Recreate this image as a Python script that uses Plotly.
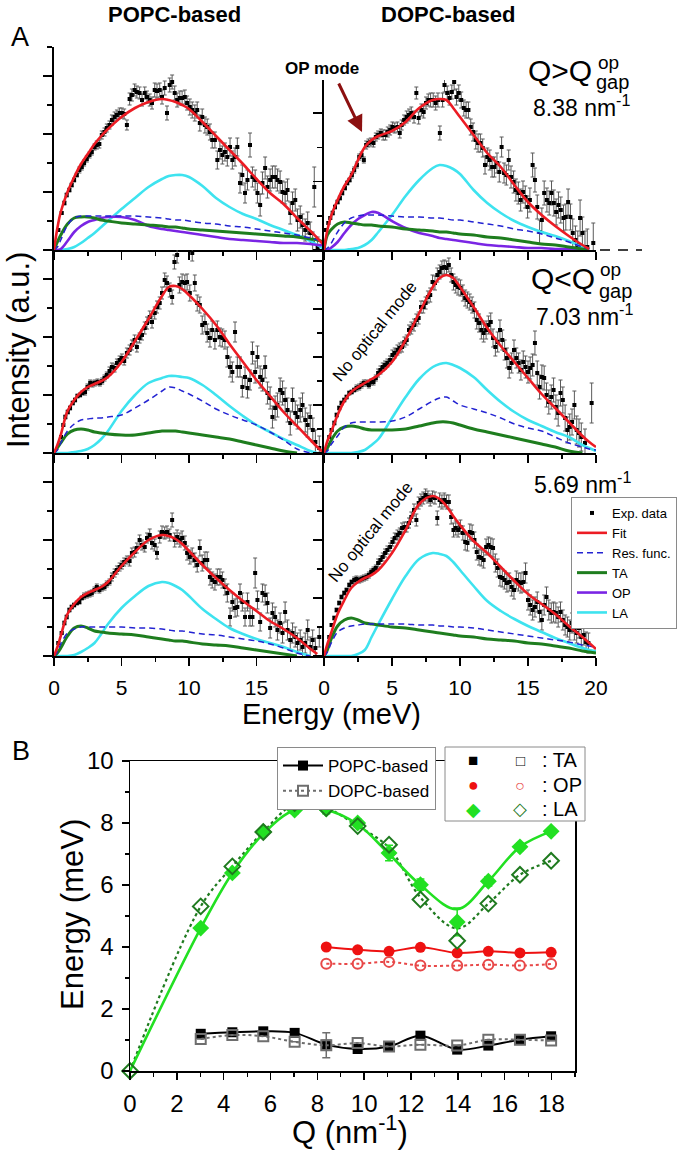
import plotly.graph_objects as go

W, H = 678, 1153
FONT = "Liberation Sans, Arial, Helvetica, sans-serif"

# ---------------- Panel A : experimental spectra (intensity in a.u.) ----------------
E_TL = [0.32,0.57,0.77,0.94,1.14,1.31,1.49,1.69,1.88,2.06, 2.23,2.43,2.63,2.80,3.00,3.17,3.36,3.54,3.74,3.91,
        4.11,4.29,4.49,4.66,4.86,5.03,5.20,5.40,5.60,5.77, 5.97,6.14,6.34,6.52,6.72,6.89,7.09,7.26,7.46,7.63,
        7.83,8.00,8.20,8.37,8.57,8.75,8.94,9.12,9.32,9.49, 9.69,9.86,10.06,10.24,10.43,10.61,10.80,10.98,11.18,11.35,
        11.55,11.72,11.92,12.10,12.29,12.47,12.66,12.84,13.04,13.21, 13.41,13.58,13.78,13.95,14.15,14.33,14.52,14.70,14.90,15.07,
        15.27,15.44,15.64,15.81,16.01,16.18,16.38,16.55,16.75,16.93, 17.12,17.30,17.50,17.67,17.87,18.04,18.24,18.41,18.61,18.79,
        18.98,19.16,19.28,19.53]
I_TL = [20,37,47,55,60,65,70,75,80,83, 87,91,95,98,103,105,106,115,118,122,
        125,130,133,135,137,137,136,125,151,155, 160,158,157,150,157,153,150,147,160,159,
        160,153,162,137,165,168,157,150,152,152, 153,147,143,140,137,140,127,133,125,123,
        118,110,110,90,100,95,98,93,103,90, 93,103,67,75,57,70,105,73,70,57,
        45,67,82,63,70,73,73,70,68,58, 57,60,37,47,50,30,33,25,20,27,
        17,7,63,3]
ERR_TL = [1,1,2,2,2,2,2,2,3,3, 3,3,3,3,3,4,4,4,4,4, 4,5,5,5,5,5,5,5,6,6, 6,6,6,6,6,6,6,6,7,7,
          7,7,7,7,7,7,7,7,7,7, 7,7,8,8,8,8,8,8,8,8, 8,8,8,9,9,9,9,9,9,9, 9,9,10,10,10,10,12,10,10,10,
          11,11,11,11,11,11,11,11,11,11, 11,11,11,11,11,11,11,11,11,11, 11,11,20,10]

E_TR = [0.15,0.32,0.46,0.64,0.81,1.00,1.17,1.34,1.54,1.71, 1.88,2.05,2.22,2.42,2.59,2.76,2.93,3.10,3.27,3.44,
        3.64,3.81,3.98,4.18,4.35,4.52,4.69,4.86,5.03,5.20, 5.40,5.57,5.71,5.89,6.08,6.25,6.42,6.62,6.79,6.96,
        7.16,7.33,7.50,7.67,7.84,8.03,8.21,8.38,8.52,8.72, 8.86,9.06,9.23,9.40,9.57,9.74,9.91,10.09,10.28,10.45,
        10.62,10.79,10.96,11.16,11.33,11.50,11.67,11.84,12.01,12.19, 12.36,12.53,12.72,12.89,13.06,13.24,13.41,13.58,13.75,13.94,
        14.11,14.29,14.46,14.63,14.80,14.97,15.14,15.34,15.51,15.68, 15.85,16.02,16.19,16.39,16.56,16.73,16.90,17.07,17.24,17.41,
        17.61,17.78,17.95,18.12,18.29,18.49,18.66,18.83,19.00,19.19, 19.36,19.80]
I_TR = [20,27,32,37,43,48,52,57,62,67, 70,75,80,85,93,95,90,105,107,108,
        107,113,115,117,115,115,118,120,123,122, 123,117,125,130,133,135,137,133,157,132,
        140,138,147,150,150,150,147,150,117,150, 165,157,152,158,168,153,157,150,142,140,
        140,123,118,110,107,107,102,85,93,90, 83,83,87,78,103,77,75,90,73,68,
        60,57,50,58,53,43,50,85,70,43, 18,30,57,50,47,57,47,38,45,40,
        32,33,48,33,17,10,5,32,17,3, 3,7]
ERR_TR = [1,1,1,2,2,2,2,2,2,2, 2,3,3,3,3,3,3,4,4,4, 4,4,4,4,5,5,5,5,5,5, 5,5,5,5,6,6,6,6,6,6,
          6,6,6,6,7,7,7,7,7,7, 7,7,7,7,8,8,8,8,8,8, 8,8,9,9,9,9,9,9,9,10, 10,10,10,10,10,10,10,10,11,11,
          11,11,11,11,11,11,12,12,12,12, 12,12,12,12,12,12,13,13,13,13, 13,13,13,13,14,14,14,18,16,16,
          18,20]

E_ML = [0.52,0.69,0.84,1.02,1.19,1.39,1.56,1.74,1.93,2.10, 2.30,2.48,2.68,2.85,3.02,3.22,3.40,3.57,3.74,3.91,
        4.11,4.29,4.49,4.66,4.86,5.03,5.20,5.40,5.60,5.77, 5.97,6.14,6.34,6.52,6.72,6.89,7.09,7.26,7.46,7.63,
        7.83,8.00,8.20,8.37,8.57,8.75,8.92,9.12,9.29,9.49, 9.69,9.86,10.06,10.24,10.43,10.61,10.80,10.98,11.18,11.35,
        11.55,11.72,11.92,12.10,12.29,12.47,12.66,12.84,13.04,13.21, 13.41,13.58,13.78,13.95,14.15,14.33,14.52,14.70,14.90,15.07,
        15.27,15.44,15.64,15.81,16.01,16.18,16.38,16.55,16.75,16.93, 17.12,17.30,17.50,17.67,17.87,18.04,18.24,18.41,18.61,18.79,
        18.98,19.17,19.36,19.65]
I_ML = [16,28,36,41,45,50,53,57,58,60, 61,66,70,69,70,71,70,72,75,78,
        82,86,85,90,93,95,92,100,103,108, 113,106,115,118,125,130,136,131,140,146,
        150,160,173,170,163,156,191,198,168,171, 170,171,160,200,170,150,148,128,130,120,
        115,123,113,123,116,115,113,96,86,81, 121,86,86,66,76,65,73,100,81,96,
        76,73,86,60,55,36,45,48,63,60, 53,43,30,53,40,36,43,48,33,28,
        36,23,11,5]
ERR_ML = [1,1,2,2,2,2,2,2,2,2, 3,3,3,3,3,3,3,3,3,3, 4,4,4,4,4,4,4,5,5,5, 5,5,5,5,6,6,6,6,6,6,
          6,6,7,7,7,7,7,8,8,8, 8,8,8,8,8,8,8,9,9,9, 9,9,9,9,9,9,9,10,10,10, 10,10,10,10,10,10,10,11,11,11,
          11,11,11,11,11,11,12,12,12,12, 12,12,12,12,12,12,12,12,12,12, 12,12,12,12]

E_MR = [0.39,0.56,0.76,0.93,1.12,1.29,1.49,1.66,1.86,2.03, 2.22,2.39,2.59,2.76,2.93,3.12,3.30,3.47,3.64,3.81,
        3.98,4.15,4.32,4.49,4.66,4.86,5.03,5.20,5.40,5.57, 5.74,5.91,6.08,6.25,6.42,6.62,6.79,6.96,7.13,7.30,
        7.47,7.64,7.81,7.98,8.16,8.33,8.50,8.67,8.84,9.01, 9.18,9.35,9.52,9.69,9.86,10.03,10.21,10.38,10.55,10.72,
        10.89,11.06,11.23,11.40,11.57,11.74,11.92,12.09,12.26,12.43, 12.60,12.77,12.94,13.11,13.28,13.45,13.62,13.80,13.97,14.14,
        14.31,14.48,14.65,14.82,15.00,15.16,15.34,15.51,15.68,15.85, 16.02,16.19,16.36,16.53,16.71,16.88,17.05,17.22,17.39,17.56,
        17.73,17.90,18.07,18.24,18.41,18.58,18.75,18.92,19.19,19.68]
I_MR = [16,23,30,38,45,50,53,56,60,61, 63,65,66,68,70,70,68,71,71,75,
        80,83,86,88,90,93,98,100,103,105, 106,111,113,123,125,128,133,135,146,146,
        150,156,158,171,170,178,181,185,186,185, 188,178,171,168,166,165,160,155,153,151,
        148,143,133,130,123,120,123,128,131,115, 106,111,123,113,103,95,85,90,103,95,
        90,83,91,86,81,85,88,110,80,66, 76,75,58,51,56,63,46,40,60,53,
        35,23,26,31,48,23,20,16,10,50]
ERR_MR = [1,1,2,2,2,2,2,2,2,2, 2,3,3,3,3,3,3,3,3,3, 4,4,4,4,4,4,5,5,5,5, 5,5,5,5,6,6,6,6,6,6,
          6,6,7,7,7,7,7,7,7,7, 7,7,8,8,8,8,8,8,8,8, 8,8,9,9,9,9,9,9,9,9, 9,10,10,10,10,10,10,10,10,10,
          10,10,11,11,11,11,11,12,12,12, 12,12,12,12,12,12,12,13,13,13, 13,13,13,13,14,14,14,14,14,20]

E_BL = [0.32,0.57,0.77,0.94,1.14,1.31,1.49,1.69,1.88,2.06, 2.23,2.43,2.63,2.80,3.00,3.17,3.36,3.54,3.74,3.91,
        4.11,4.29,4.49,4.66,4.86,5.03,5.20,5.40,5.60,5.77, 5.97,6.14,6.34,6.52,6.72,6.89,7.09,7.26,7.46,7.63,
        7.83,8.00,8.20,8.37,8.57,8.75,8.94,9.12,9.32,9.49, 9.69,9.86,10.06,10.24,10.43,10.61,10.80,10.98,11.18,11.35,
        11.55,11.72,11.92,12.10,12.29,12.47,12.66,12.84,13.04,13.21, 13.41,13.58,13.78,13.95,14.15,14.33,14.52,14.70,14.90,15.07,
        15.27,15.44,15.64,15.81,16.01,16.18,16.38,16.55,16.75,16.93, 17.12,17.30,17.50,17.67,17.87,18.04,18.24,18.41,18.61,18.79,
        18.98,19.16,19.36,19.65]
I_BL = [13,23,33,39,46,49,51,53,54,58, 60,61,62,63,66,69,66,68,69,72,
        74,79,83,86,89,91,94,96,95,103, 104,108,116,111,109,118,121,113,111,103,
        119,124,123,124,121,136,116,119,116,118, 113,103,99,101,96,91,108,93,96,96,
        79,76,74,79,79,76,69,63,39,54, 48,49,63,54,39,54,39,39,83,56,
        34,63,61,53,28,43,39,26,33,23, 44,26,16,23,19,13,16,9,13,26,
        9,16,8,19]
ERR_BL = [1,1,2,2,2,2,2,2,2,2, 3,3,3,3,3,3,3,3,3,3, 3,4,4,4,4,4,4,4,5,5, 5,5,5,5,5,5,6,6,6,6,
          6,6,6,6,6,7,7,7,7,7, 7,7,7,7,7,7,8,8,8,8, 8,8,8,8,8,8,8,9,9,9, 9,9,9,9,9,9,9,9,15,9,
          9,9,10,10,10,10,10,10,10,10, 10,10,10,10,10,10,10,10,10,10, 10,10,10,10]

E_BR = [0.39,0.56,0.76,0.93,1.12,1.29,1.49,1.66,1.86,2.03, 2.22,2.39,2.59,2.76,2.93,3.12,3.30,3.47,3.64,3.81,
        3.98,4.15,4.32,4.49,4.66,4.86,5.03,5.20,5.40,5.57, 5.74,5.91,6.08,6.25,6.42,6.62,6.79,6.96,7.13,7.30,
        7.47,7.64,7.81,7.98,8.16,8.33,8.50,8.67,8.84,9.01, 9.18,9.35,9.52,9.69,9.86,10.03,10.21,10.38,10.55,10.72,
        10.89,11.06,11.23,11.40,11.57,11.74,11.92,12.09,12.26,12.43, 12.60,12.77,12.94,13.11,13.28,13.45,13.62,13.80,13.97,14.14,
        14.31,14.48,14.65,14.82,15.00,15.16,15.34,15.51,15.68,15.85, 16.02,16.19,16.36,16.53,16.71,16.88,17.05,17.22,17.39,17.56,
        17.73,17.90,18.07,18.24,18.41,18.58,18.75,18.92,19.10,19.27, 19.44]
I_BR = [19,31,38,46,53,59,63,66,71,74, 76,77,76,77,78,79,81,84,86,88,
        93,96,99,103,106,109,114,118,121,123, 128,129,129,133,139,146,136,153,156,158,
        161,159,156,159,158,138,156,154,156,154, 154,139,126,128,126,129,123,114,113,124,
        123,116,104,99,98,96,109,111,109,108, 93,88,79,78,76,73,74,69,66,76,
        74,73,74,83,56,51,46,49,54,44, 36,51,59,46,43,44,43,39,44,36,
        31,29,26,33,26,23,28,19,21,14, 13]
ERR_BR = [1,1,2,2,2,2,2,2,2,2, 3,3,3,3,3,3,3,3,3,3, 4,4,4,4,4,4,4,5,5,5, 5,5,5,5,5,6,6,6,6,6,
          6,6,6,6,6,7,7,7,7,7, 7,7,7,7,7,7,7,8,8,8, 8,8,8,8,8,8,8,8,9,9, 9,9,9,9,9,9,9,9,9,9,
          9,10,10,10,10,10,10,10,10,10, 10,10,10,10,10,10,10,10,10,10, 10,10,10,10,10,10,10,10,10,10, 10]

# ---------------- Panel A : fitted components, read on a common energy grid ----------------
CURVE_E = [0, 0.25, 0.5, 1, 1.5, 2, 2.5, 3, 3.5, 4, 5, 6, 7, 8, 8.5, 9, 9.5, 10, 11, 12, 13, 14, 15, 16, 17, 18, 19, 19.5, 20]

FIT_TL = [0,22,38,58,73,86,96,106,114,121,133,142,148,151,150,148,145,141,128,114,100,86,71,57,46,32,19,12,5]
RES_TL = [0,3,10,25,32,34,34,34,34,34,34,34,33,32,31,30,30,29,27,26,24,23,21,19,17,15,12,10,8]
TA_TL  = [0,8,15,26,32,33,33,32,30,29,27,26,25,24,23,23,22,21,20,19,18,17,16,15,14,13,11,10,8]
OP_TL  = [0,0,1,9,18,24,28,30,32,33,33,30,24,21,20,19,18,17,15,13,11,10,9,8,7,7,6,5,5]
LA_TL  = [0,0,0,1,3,7,12,17,23,29,41,52,63,71,74,75,75,73,64,52,43,36,31,25,20,15,9,5,1]

FIT_TR = [0,20,33,50,64,75,90,103,110,114,119,128,142,150,151,150,142,133,115,97,83,65,48,35,24,14,5,1,None]
RES_TR = [0,2,6,18,27,32,34,35,35,35,34,33,33,32,32,31,30,30,28,26,24,21,19,16,12,8,3,1,None]
TA_TR  = [0,15,20,26,28,27,26,25,25,24,23,21,20,19,18,18,17,16,15,13,12,10,8,6,5,3,1,0,None]
OP_TR  = [0,0,2,8,17,25,31,35,38,37,29,22,17,14,12,11,10,9,7,5,4,3,2,2,1,1,0,0,None]
LA_TR  = [0,0,0,0,0,1,2,5,10,18,35,54,70,82,85,84,81,76,60,47,37,29,23,18,14,9,3,1,None]

FIT_ML = [0,8,18,42,53,61,66,69,72,76,91,112,134,157,166,167,164,158,144,128,109,91,73,57,41,27,13,6,0]
RES_ML = [0,3,10,22,29,33,34,35,35,36,38,45,53,62,66,65,62,59,52,44,38,33,28,21,13,4,0,None,None]
TA_ML  = [0,5,10,19,23,24,23,21,20,19,18,18,20,22,22,22,21,20,18,16,14,11,8,5,2,0,None,None,None]
LA_ML  = [0,0,0,0,1,2,4,8,14,22,42,58,70,75,77,77,76,75,68,58,47,37,28,21,14,8,2,0,None]

FIT_MR = [0,12,20,38,52,61,66,70,74,78,91,113,140,166,175,178,175,166,146,125,107,91,75,59,45,31,17,11,6]
RES_MR = [0,2,8,17,26,30,31,31,31,31,32,36,44,52,55,56,52,48,44,40,35,29,25,22,16,10,6,4,3]
TA_MR  = [0,5,12,22,26,27,26,24,23,23,23,24,27,30,31,31,30,28,24,21,18,15,12,9,6,2,0,None,None]
LA_MR  = [0,0,0,0,0,0,1,3,8,14,35,56,74,86,89,90,88,85,76,63,51,41,33,27,21,16,8,5,2]

FIT_BL = [0,9,20,42,52,59,63,66,69,74,90,104,116,121,120,117,112,105,91,78,66,55,45,35,27,18,7,2,None]
RES_BL = [0,4,12,23,27,29,29,29,29,29,29,28,28,27,26,25,25,24,22,21,19,17,15,12,8,3,0,None,None]
TA_BL  = [0,3,8,20,28,30,28,25,24,23,22,21,19,17,16,15,15,14,12,11,10,8,6,4,2,0,None,None,None]
LA_BL  = [0,0,0,0,1,4,8,13,22,32,48,60,70,74,73,70,66,60,47,37,28,22,17,13,9,4,0,None,None]

FIT_BR = [0,12,22,42,56,68,74,78,81,86,103,126,152,160,157,150,140,131,115,103,89,75,62,52,42,30,19,13,7]
RES_BR = [0,4,12,24,28,30,31,32,32,32,32,32,31,31,30,30,29,29,28,26,24,22,20,18,16,14,11,10,8]
TA_BR  = [0,6,16,30,36,38,36,33,32,31,29,28,26,24,23,22,21,20,19,17,16,15,13,12,10,8,5,4,3]
LA_BR  = [0,0,0,0,0,0,2,6,19,32,57,80,97,103,102,100,94,86,70,55,45,37,30,24,18,13,8,6,5]

X_TICKS_LEFT = [0, 5, 10, 15]
X_TICKS_RIGHT = [0, 5, 10, 15, 20]

# ---------------- Panel B : dispersion ----------------
Q_B = [3.02, 4.37, 5.69, 7.03, 8.38, 9.72, 11.06, 12.40, 13.97, 15.30, 16.65, 17.98]
TA_POPC = [1.20, 1.25, 1.28, 1.23, 0.85, 0.71, 0.79, 1.14, 0.69, 0.82, 1.01, 1.12]
TA_DOPC = [1.03, 1.16, 1.12, 0.94, 0.83, 0.90, 0.79, 0.85, 0.82, 1.01, 1.01, 0.98]
TA_DOPC_ERR = [0, 0, 0, 0, 0.40, 0, 0, 0, 0, 0, 0, 0]
Q_OP = [8.38, 9.72, 11.06, 12.40, 13.97, 15.30, 16.65, 17.98]
OP_POPC = [4.00, 3.91, 3.86, 3.99, 3.81, 3.86, 3.81, 3.83]
OP_DOPC = [3.46, 3.46, 3.52, 3.40, 3.40, 3.43, 3.40, 3.45]
LA_POPC = [4.61, 6.39, 7.72, 8.42, 8.45, 8.00, 7.03, 6.01, 4.81, 6.12, 7.23, 7.73]
LA_POPC_ERR = [0.08, 0.08, 0.08, 0.12, 0.15, 0.12, 0.25, 0.18, 0.45, 0.15, 0.12, 0.12]
Q_LA = [0, 3.02, 4.37, 5.69, 7.03, 8.38, 9.72, 11.06, 12.40, 13.97, 15.30, 16.65, 17.98]
LA_DOPC = [0, 5.31, 6.60, 7.71, 8.64, 8.48, 7.90, 7.30, 5.53, 4.20, 5.40, 6.33, 6.78]
LA_POPC_FIT = [0, 4.61, 6.39, 7.65, 8.42, 8.42, 7.96, 7.00, 6.00, 5.22, 6.12, 7.23, 7.73]
LA_DOPC_FIT = [0, 5.31, 6.60, 7.71, 8.60, 8.48, 7.90, 7.20, 5.60, 4.60, 5.40, 6.33, 6.78]
Q_TICKS = [0, 2, 4, 6, 8, 10, 12, 14, 16, 18]

# ---------------- styling ----------------
C_FIT, C_RES, C_TA, C_OP, C_LA = "#ec1c24", "#2323d2", "#1e7d1e", "#7a25e4", "#3ee3ef"
C_LA_B, C_LA_B_OPEN, C_OP_B, C_OP_B_OPEN, C_GRAY = "#22e022", "#1f7a1f", "#ee1111", "#e84848", "#6e6e6e"


def fx(p):
    return p / W


def fy(p):
    return 1 - p / H


fig = go.Figure()

PANELS = [
    ("x", "y", E_TL, I_TL, ERR_TL, FIT_TL, RES_TL, TA_TL, OP_TL, LA_TL, True),
    ("x2", "y2", E_TR, I_TR, ERR_TR, FIT_TR, RES_TR, TA_TR, OP_TR, LA_TR, False),
    ("x3", "y3", E_ML, I_ML, ERR_ML, FIT_ML, RES_ML, TA_ML, None, LA_ML, False),
    ("x4", "y4", E_MR, I_MR, ERR_MR, FIT_MR, RES_MR, TA_MR, None, LA_MR, False),
    ("x5", "y5", E_BL, I_BL, ERR_BL, FIT_BL, RES_BL, TA_BL, None, LA_BL, False),
    ("x6", "y6", E_BR, I_BR, ERR_BR, FIT_BR, RES_BR, TA_BR, None, LA_BR, False),
]

for xa, ya, e, inten, err, fit, res, ta, op, la, leg in PANELS:
    fig.add_trace(go.Scatter(
        x=e, y=inten, mode="markers", name="Exp. data", legendrank=1, showlegend=leg,
        marker=dict(symbol="square", size=4, color="black"),
        error_y=dict(type="data", array=err, color="#5a5a5a", thickness=1, width=2),
        xaxis=xa, yaxis=ya))
    fig.add_trace(go.Scatter(
        x=CURVE_E, y=la, mode="lines", name="LA", legendrank=6, showlegend=leg,
        line=dict(color=C_LA, width=2.6, shape="spline"), xaxis=xa, yaxis=ya))
    if op is not None:
        fig.add_trace(go.Scatter(
            x=CURVE_E, y=op, mode="lines", name="OP", legendrank=5, showlegend=leg,
            line=dict(color=C_OP, width=2.6, shape="spline"), xaxis=xa, yaxis=ya))
    fig.add_trace(go.Scatter(
        x=CURVE_E, y=ta, mode="lines", name="TA", legendrank=4, showlegend=leg,
        line=dict(color=C_TA, width=3, shape="spline"), xaxis=xa, yaxis=ya))
    fig.add_trace(go.Scatter(
        x=CURVE_E, y=res, mode="lines", name="Res. func.", legendrank=3, showlegend=leg,
        line=dict(color=C_RES, width=1.5, dash="6px,4px", shape="spline"), xaxis=xa, yaxis=ya))
    fig.add_trace(go.Scatter(
        x=CURVE_E, y=fit, mode="lines", name="Fit", legendrank=2, showlegend=leg,
        line=dict(color=C_FIT, width=2.6, shape="spline"), xaxis=xa, yaxis=ya))

# ---- panel B traces ----
fig.add_trace(go.Scatter(
    x=Q_B, y=TA_POPC, mode="lines+markers", name="POPC-based", legend="legend2",
    line=dict(color="black", width=2, shape="spline"),
    marker=dict(symbol="square", size=10, color="black"), xaxis="x7", yaxis="y7"))
fig.add_trace(go.Scatter(
    x=Q_B, y=TA_DOPC, mode="lines+markers", name="DOPC-based", legend="legend2",
    line=dict(color=C_GRAY, width=2, dash="dot", shape="spline"),
    marker=dict(symbol="square-open", size=10, color=C_GRAY, line=dict(width=2)),
    error_y=dict(type="data", array=TA_DOPC_ERR, color=C_GRAY, thickness=1.5, width=4),
    xaxis="x7", yaxis="y7"))
fig.add_trace(go.Scatter(
    x=Q_OP, y=OP_POPC, mode="lines+markers", showlegend=False,
    line=dict(color=C_OP_B, width=2, shape="spline"),
    marker=dict(symbol="circle", size=11, color=C_OP_B), xaxis="x7", yaxis="y7"))
fig.add_trace(go.Scatter(
    x=Q_OP, y=OP_DOPC, mode="lines+markers", showlegend=False,
    line=dict(color=C_OP_B_OPEN, width=2, dash="dot", shape="spline"),
    marker=dict(symbol="circle-open", size=10, color=C_OP_B_OPEN, line=dict(width=2)),
    xaxis="x7", yaxis="y7"))
fig.add_trace(go.Scatter(
    x=Q_LA, y=LA_DOPC_FIT, mode="lines", showlegend=False,
    line=dict(color=C_LA_B_OPEN, width=2.2, dash="dot", shape="spline"),
    xaxis="x7", yaxis="y7"))
fig.add_trace(go.Scatter(
    x=Q_LA, y=LA_POPC_FIT, mode="lines", showlegend=False,
    line=dict(color=C_LA_B, width=2.6, shape="spline"),
    xaxis="x7", yaxis="y7"))
fig.add_trace(go.Scatter(
    x=Q_B, y=LA_POPC, mode="markers", showlegend=False,
    marker=dict(symbol="diamond", size=13, color=C_LA_B),
    error_y=dict(type="data", array=LA_POPC_ERR, color=C_LA_B, thickness=1.5, width=4),
    xaxis="x7", yaxis="y7"))
fig.add_trace(go.Scatter(
    x=Q_LA, y=LA_DOPC, mode="markers", showlegend=False, cliponaxis=False,
    marker=dict(symbol="diamond-open", size=12, color=C_LA_B_OPEN, line=dict(width=2)),
    xaxis="x7", yaxis="y7"))


# ---------------- axes ----------------
def a_xaxis(dom, anchor, tickvals, labels):
    return dict(domain=dom, anchor=anchor, range=[0, 20], showline=True, linecolor="black",
                linewidth=2, ticks="outside", ticklen=8, tickwidth=1.5, tickcolor="black",
                tickmode="array", tickvals=tickvals, showticklabels=labels, ticklabelstandoff=4,
                tickfont=dict(size=21, family=FONT, color="black"),
                minor=dict(ticks="outside", ticklen=4, tickwidth=1.5, tickcolor="black",
                           tick0=0, dtick=2.5, showgrid=False),
                showgrid=False, zeroline=False, fixedrange=True)


def a_yaxis(dom, anchor, top, major, minor):
    return dict(domain=dom, anchor=anchor, range=[0, top], showline=True, linecolor="black",
                linewidth=2, ticks="outside", ticklen=9, tickwidth=1.5, tickcolor="black",
                tick0=0, dtick=major, showticklabels=False,
                minor=dict(ticks="outside", ticklen=5, tickwidth=1.5, tickcolor="black",
                           tick0=0, dtick=minor, showgrid=False),
                showgrid=False, zeroline=False, fixedrange=True)


COL_L = [fx(54), fx(324)]
COL_R = [fx(324), fx(596)]
ROW1_L = [fy(250), fy(47)]
ROW1_R = [fy(250), fy(80)]
ROW2 = [fy(453), fy(250)]
ROW3 = [fy(656), fy(453)]

layout = dict(
    width=W, height=H, margin=dict(l=0, r=0, t=0, b=0, pad=0, autoexpand=False),
    paper_bgcolor="white", plot_bgcolor="rgba(0,0,0,0)",
    font=dict(family=FONT, color="black"),
    xaxis=a_xaxis(COL_L, "y", X_TICKS_LEFT, False),
    yaxis=a_yaxis(ROW1_L, "x", 203, 58, 29),
    xaxis2=a_xaxis(COL_R, "y2", X_TICKS_RIGHT, False),
    yaxis2=a_yaxis(ROW1_R, "x2", 170, 68.5, 34.25),
    xaxis3=a_xaxis(COL_L, "y3", X_TICKS_LEFT, False),
    yaxis3=a_yaxis(ROW2, "x3", 203, 58, 29),
    xaxis4=a_xaxis(COL_R, "y4", X_TICKS_RIGHT, False),
    yaxis4=a_yaxis(ROW2, "x4", 203, 48, 24),
    xaxis5=a_xaxis(COL_L, "y5", X_TICKS_LEFT, True),
    yaxis5=a_yaxis(ROW3, "x5", 203, 58, 29),
    xaxis6=a_xaxis(COL_R, "y6", X_TICKS_RIGHT, True),
    yaxis6=a_yaxis(ROW3, "x6", 203, 58, 29),
    xaxis7=dict(domain=[fx(130), fx(575)], anchor="y7", range=[0, 19], showline=True,
                mirror=True, linecolor="black", linewidth=1.5, ticks="outside", ticklen=7,
                tickwidth=1.5, tickcolor="black", tickmode="array", tickvals=Q_TICKS,
                ticklabelstandoff=4, tickfont=dict(size=24, family=FONT, color="black"),
                minor=dict(ticks="outside", ticklen=4, tickwidth=1.2, tickcolor="black",
                           tick0=0, dtick=1, showgrid=False),
                showgrid=False, zeroline=False, fixedrange=True),
    yaxis7=dict(domain=[fy(1071), fy(761)], anchor="x7", range=[0, 10], showline=True,
                mirror=True, linecolor="black", linewidth=1.5, ticks="outside", ticklen=7,
                tickwidth=1.5, tickcolor="black", tick0=0, dtick=2,
                ticklabelstandoff=3, tickfont=dict(size=24, family=FONT, color="black"),
                minor=dict(ticks="outside", ticklen=4, tickwidth=1.2, tickcolor="black",
                           tick0=0, dtick=1, showgrid=False),
                showgrid=False, zeroline=False, fixedrange=True),
    showlegend=True,
    legend=dict(x=fx(677), y=fy(497), xanchor="right", yanchor="top", bgcolor="white",
                bordercolor="#8a8a8a", borderwidth=1, tracegroupgap=0, itemwidth=30,
                font=dict(size=13, family=FONT, color="black")),
    legend2=dict(x=fx(277), y=fy(747), xanchor="left", yanchor="top", bgcolor="white",
                 bordercolor="#8a8a8a", borderwidth=1, tracegroupgap=0, itemwidth=40,
                 font=dict(size=17, family=FONT, color="black")),
)
fig.update_layout(**layout)


def ann(text, x, y, size, bold=False, xanchor="center", yanchor="middle", angle=0, color="black"):
    t = "<b>" + text + "</b>" if bold else text
    return dict(text=t, x=fx(x), y=fy(y), xref="paper", yref="paper", showarrow=False,
                xanchor=xanchor, yanchor=yanchor, textangle=angle,
                font=dict(family=FONT, size=size, color=color))


annotations = [
    ann("A", 20, 37, 27),
    ann("POPC-based", 174, 14, 22, bold=True),
    ann("DOPC-based", 448, 14, 22, bold=True),
    ann("OP mode", 322, 68, 17, bold=True),
    ann("Q&gt;Q", 594, 70, 30, xanchor="right"),
    ann("op", 596, 63, 19, xanchor="left"),
    ann("gap", 594, 82, 20, xanchor="left"),
    ann("8.38 nm<sup>-1</sup>", 581, 106, 23),
    ann("Q&lt;Q", 597, 278, 30, xanchor="right"),
    ann("op", 598, 270, 19, xanchor="left"),
    ann("gap", 597, 291, 20, xanchor="left"),
    ann("7.03 nm<sup>-1</sup>", 584, 315, 23),
    ann("5.69 nm<sup>-1</sup>", 582, 483, 23),
    ann("No optical mode", 375, 332, 17, angle=-51),
    ann("No optical mode", 370, 532, 17, angle=-51),
    ann("Intensity (a.u.)", 18, 350, 31, angle=-90),
    ann("Energy (meV)", 331, 714, 29),
    ann("B", 21, 751, 27),
    ann("Energy (meV)", 72, 915, 31, angle=-90),
    ann("Q (nm<sup>-1</sup>)", 350, 1130, 31),
    # second legend of panel B (filled / open symbols)
    ann("\u25A0", 473, 760, 17),
    ann("\u25A1", 520, 760, 15),
    ann(": TA", 540, 760, 20, xanchor="left"),
    ann("\u25CF", 473, 785, 18, color=C_OP_B),
    ann("\u25CB", 520, 785, 16, color=C_OP_B_OPEN),
    ann(": OP", 540, 785, 20, xanchor="left"),
    ann("\u25C6", 473, 809, 19, color=C_LA_B),
    ann("\u25C7", 520, 809, 18, color=C_LA_B_OPEN),
    ann(": LA", 540, 809, 20, xanchor="left"),
    # arrow pointing at the OP shoulder
    dict(x=fx(362), y=fy(132), xref="paper", yref="paper", text="", showarrow=True,
         ax=-24, ay=-50, arrowhead=2, arrowsize=1.1, arrowwidth=3, arrowcolor="#8c1010"),
]
fig.update_layout(annotations=annotations)

shapes = [
    dict(type="rect", xref="paper", yref="paper", x0=fx(445), x1=fx(585), y0=fy(821), y1=fy(747),
         line=dict(color="#8a8a8a", width=1), fillcolor="white", layer="above"),
    dict(type="line", xref="paper", yref="paper", x0=fx(600), x1=fx(642), y0=fy(250), y1=fy(250),
         line=dict(color="black", width=1.5, dash="10px,8px")),
]
fig.update_layout(shapes=shapes)

# remove the browser's default 8px page margin so the figure sits at the window origin
fig.write_html("out.html", config={"displayModeBar": False, "staticPlot": True},
               post_script="document.body.style.margin='0px';document.body.style.overflow='hidden';")
